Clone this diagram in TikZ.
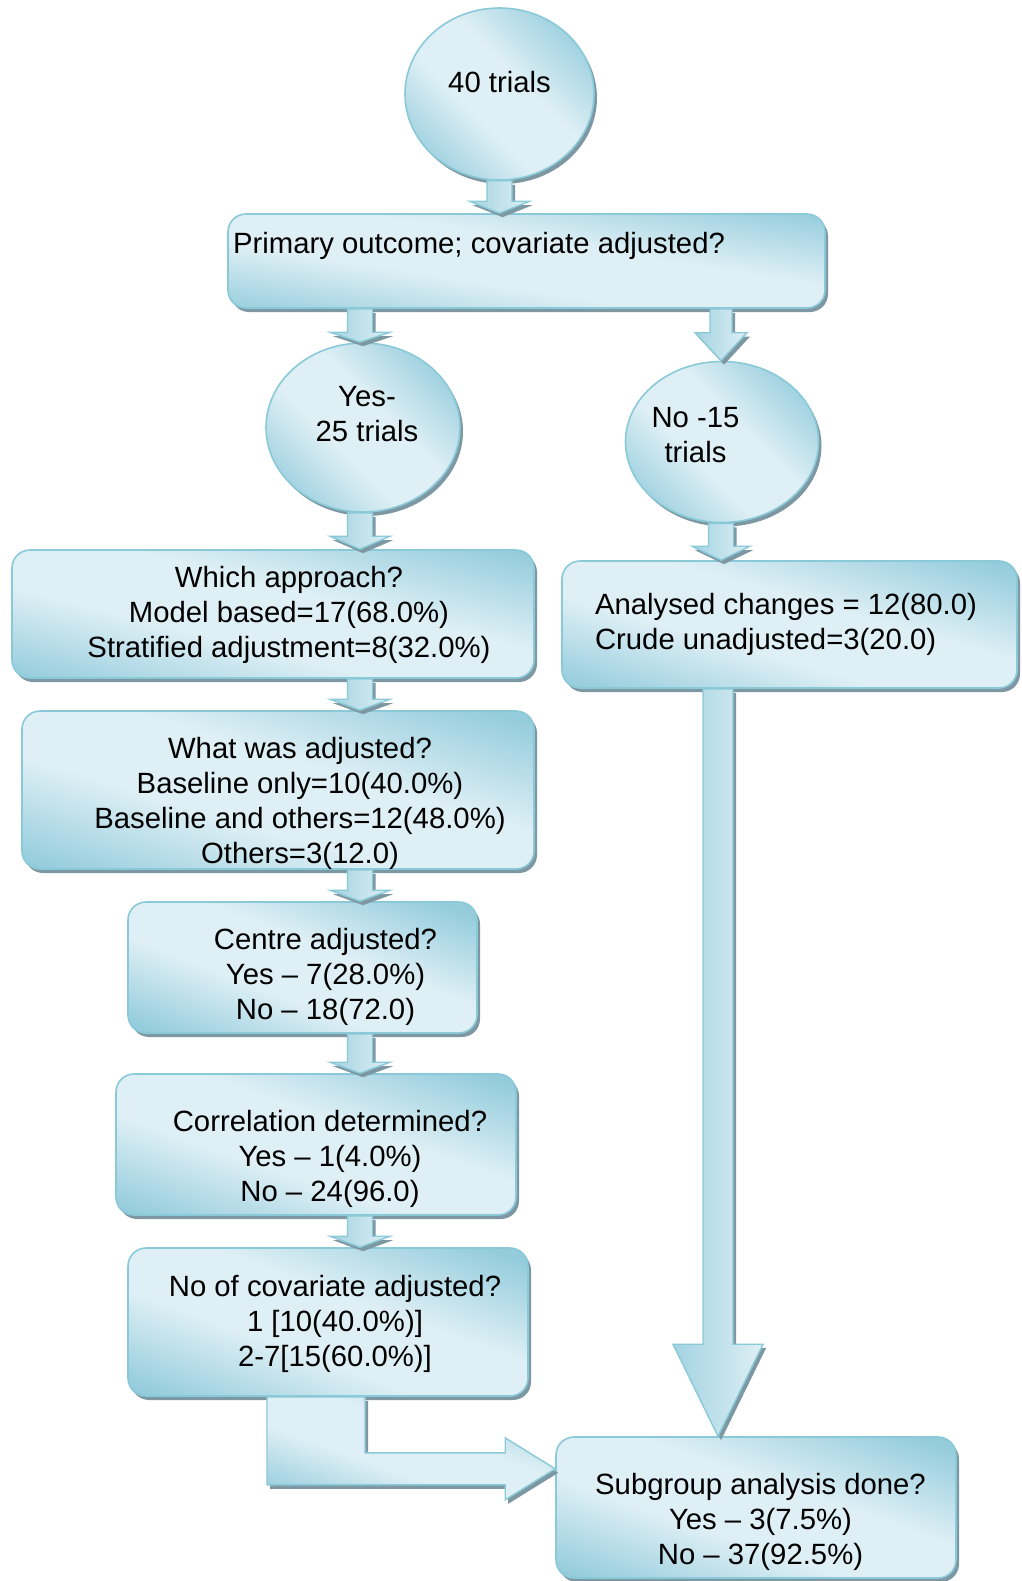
\documentclass[tikz,border=0pt]{standalone}
\usepackage{fontspec}
\setmainfont{Liberation Sans}
\usetikzlibrary{shapes.geometric,shadows,calc}
\definecolor{dk}{RGB}{148,204,220}
\definecolor{lt}{RGB}{222,239,245}
\definecolor{bordc}{RGB}{138,201,216}
\definecolor{shadc}{RGB}{125,152,162}
\pgfdeclareverticalshading{ppt}{100bp}{color(0bp)=(dk); color(20bp)=(dk); color(41bp)=(lt); color(57bp)=(lt); color(79bp)=(dk); color(100bp)=(dk)}
\newcommand\offtext[4]{\raisebox{#2pt}[0pt][0pt]{\makebox[0pt]{\hspace*{#1pt}\begin{tabular}{@{}#3@{}}#4\end{tabular}}}}
\newcommand\vblock[6]{\path[blockarrow] let \p1=(#2 -| #1), \p2=(#3 -| #1) in (\x1-#4,\y1) -- (\x1+#4,\y1) -- (\x1+#4,\y2+#6) -- (\x1+#5,\y2+#6) -- (\x1,\y2) -- (\x1-#5,\y2+#6) -- (\x1-#4,\y2+#6) -- cycle;}
\tikzset{
  shadowed/.style={drop shadow={shadow xshift=3pt, shadow yshift=-4pt, fill=shadc, opacity=1}},
  fancy/.style={draw=bordc, line width=1.6pt, shading=ppt, shading angle=#1, shadowed},
  boxnode/.style={fancy=#1, rectangle, rounded corners=18pt, inner sep=0pt},
  ellnode/.style={fancy=-45, ellipse, inner sep=0pt},
  blockarrow/.style={draw=bordc, line width=1.4pt, left color=dk!80!lt, right color=lt, shadowed},
  bentarrow/.style={fancy=-20, line width=1.4pt}
}
\begin{document}
\begin{tikzpicture}[x=1pt, y=-1pt, font=\fontsize{29.3}{35}\selectfont]
\useasboundingbox (0,0) rectangle (1021,1581);
\coordinate (colT) at (499.5,0);
\coordinate (colL) at (360,0);
\coordinate (colR) at (721,0);
\coordinate (colS) at (718,0);

\node[ellnode, minimum width=189pt, minimum height=172pt] (n40) at (499.5,94) {\offtext{0}{2}{c}{40 trials}};
\node[boxnode=-9, minimum width=597pt, minimum height=94pt] (prim) at (526.5,261) {\offtext{-95}{8}{l}{Primary outcome; covariate adjusted?}};
\node[ellnode, minimum width=194pt, minimum height=169pt] (yes) at (363,427.5) {\offtext{8}{4}{c}{Yes-\\25 trials}};
\node[ellnode, minimum width=193pt, minimum height=161pt] (no) at (722,442) {\offtext{-53}{-2.5}{c}{No -15\\trials}};
\node[boxnode=-14, minimum width=522pt, minimum height=128pt] (which) at (273,614) {\offtext{32}{-7.5}{c}{Which approach?\\Model based=17(68.0\%)\\Stratified adjustment=8(32.0\%)}};
\node[boxnode=-16, minimum width=455pt, minimum height=127pt] (anal) at (789.5,624.5) {\offtext{-7}{-6.5}{l}{Analysed changes = 12(80.0)\\Crude unadjusted=3(20.0)}};
\node[boxnode=-17, minimum width=512pt, minimum height=158pt] (what) at (278,790) {\offtext{44}{-20.5}{c}{What was adjusted?\\Baseline only=10(40.0\%)\\Baseline and others=12(48.0\%)\\Others=3(12.0)}};
\node[boxnode=-21, minimum width=349pt, minimum height=131pt] (centre) at (302.5,967.5) {\offtext{46}{-16}{c}{Centre adjusted?\\Yes – 7(28.0\%)\\No – 18(72.0)}};
\node[boxnode=-19, minimum width=400pt, minimum height=141pt] (corr) at (316,1144.5) {\offtext{28}{-21}{c}{Correlation determined?\\Yes – 1(4.0\%)\\No – 24(96.0)}};
\node[boxnode=-20, minimum width=400pt, minimum height=148pt] (cov) at (328,1322) {\offtext{14}{-9}{c}{No of covariate adjusted?\\1 [10(40.0\%)]\\2-7[15(60.0\%)]}};
\node[boxnode=-19, minimum width=400pt, minimum height=141pt] (sub) at (756,1507.5) {\offtext{9}{-21}{c}{Subgroup analysis done?\\Yes – 3(7.5\%)\\No – 37(92.5\%)}};

\vblock{colT}{n40.south}{prim.north}{12.5}{30}{12}
\vblock{colL}{prim.south}{yes.north}{12.5}{30}{10}
\vblock{colR}{prim.south}{no.north}{11}{26}{28}
\vblock{colL}{yes.south}{which.north}{12.5}{30}{13}
\vblock{colR}{no.south}{anal.north}{12.5}{29}{14}
\vblock{colL}{which.south}{what.north}{12.5}{30}{11}
\vblock{colL}{what.south}{centre.north}{12.5}{30}{11}
\vblock{colL}{centre.south}{corr.north}{12.5}{30}{11}
\vblock{colL}{corr.south}{cov.north}{12.5}{30}{11}
\vblock{colS}{anal.south}{sub.north}{15}{45}{92}
\path[bentarrow] let \p1=(cov.south), \p2=(sub.west) in
  (\x1-61,\y1) -- (\x1+37,\y1) -- (\x1+37,\y1-56) -- (\x2-50,\y1-56) -- (\x2-50,\y1-41)
  -- (\x2,\y1-72) -- (\x2-50,\y1-103) -- (\x2-50,\y1-88) -- (\x1-61,\y1-88) -- cycle;
\end{tikzpicture}
\end{document}
